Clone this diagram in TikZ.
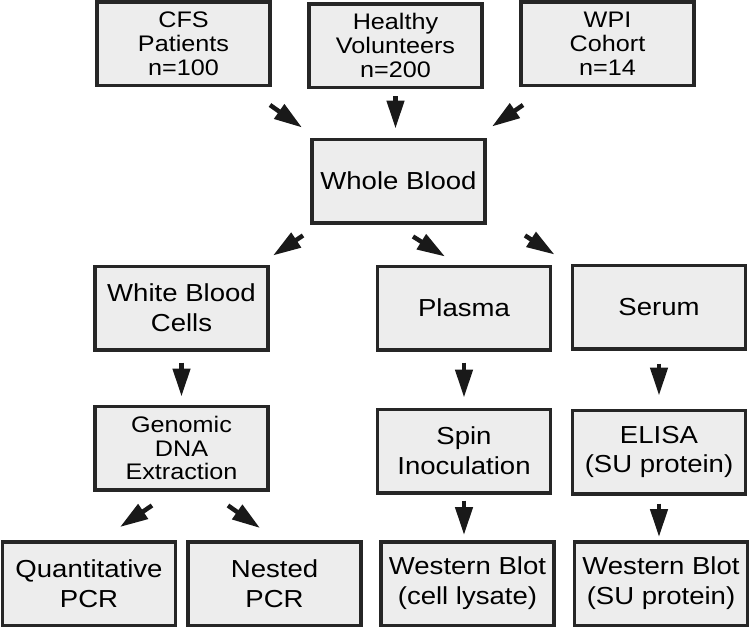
\documentclass[tikz,border=0pt]{standalone}
\usepackage{fontspec}
\setmainfont{Liberation Sans}[FakeStretch=1.12]
\usetikzlibrary{arrows.meta,calc}

\tikzset{
  box/.style={draw=black!85, fill=black!7, line width=0.07cm,
    minimum width=3.47cm, minimum height=1.67cm, align=center,
    inner sep=1pt, font=\fontsize{14}{17}\selectfont},
  tall/.style={font=\fontsize{12.8}{13.6}\selectfont},
  arr/.style={-{Triangle[length=5.6mm,width=3.4mm]}, line width=0.09cm, draw=black!90},
}

\begin{document}
\begin{tikzpicture}[x=0.02cm,y=-0.02cm]
    \useasboundingbox (0,0) rectangle (750,627);
    % sources
    \node[box,tall] (cfs) at (183.5,43.5) {CFS\\Patients\\n=100};
    \node[box,tall] (healthy) at (395.5,45.5) {Healthy\\Volunteers\\n=200};
    \node[box,tall] (wpi) at (607.5,43.5) {WPI\\Cohort\\n=14};
    \node[box] (whole) at (398.5,181) {Whole Blood};
    % fractions
    \node[box] (wbc) at (181.5,308) {White Blood\\Cells};
    \node[box] (plasma) at (464,308) {Plasma};
    \node[box] (serum) at (659,307) {Serum};
    \node[box,tall] (genomic) at (181.5,448) {Genomic\\DNA\\Extraction};
    \node[box] (spin) at (464,451) {Spin\\Inoculation};
    \node[box] (elisa) at (659,452) {ELISA\\(SU protein)};
    % assays
    \node[box] (quant) at (89,583.5) {Quantitative\\PCR};
    \node[box] (nested) at (274.5,583.5) {Nested\\PCR};
    \node[box] (wbcell) at (467.5,583.5) {Western Blot\\(cell lysate)};
    \node[box] (wbsu) at (661,583.5) {Western Blot\\(SU protein)};

    \draw[arr] ($(cfs.south east)+(-2,18)$) -- ($(whole.north west)+(-8,-10)$);
    \draw[arr] ($(wpi.south west)+(4,18)$) -- ($(whole.north east)+(5,-11)$);
    \draw[arr, shorten <=0.14cm, shorten >=0.18cm] (healthy.south) -- (healthy.south |- whole.north);
    \draw[arr] ($(whole.south west)+(-7,11)$) -- ($(wbc.north east)+(3,-9)$);
    \draw[arr] ($(whole.south)+(14.5,12)$) -- ($(plasma.north)+(-19,-8)$);
    \draw[arr] ($(whole.south east)+(38,11)$) -- ($(serum.north west)+(-16,-9)$);
    \draw[arr, shorten <=0.22cm, shorten >=0.16cm] (wbc.south) -- (wbc.south |- genomic.north);
    \draw[arr, shorten <=0.22cm, shorten >=0.2cm] (plasma.south) -- (plasma.south |- spin.north);
    \draw[arr, shorten <=0.26cm, shorten >=0.26cm] (serum.south) -- (serum.south |- elisa.north);
    \draw[arr] ($(genomic.south)+(-29.5,14)$) -- ($(quant.north)+(31,-13)$);
    \draw[arr] ($(genomic.south)+(46.5,14)$) -- ($(nested.north)+(-14.5,-12)$);
    \draw[arr, shorten <=0.12cm, shorten >=0.1cm] (spin.south) -- (spin.south |- wbcell.north);
    \draw[arr, shorten <=0.16cm, shorten >=0.06cm] (elisa.south) -- (elisa.south |- wbsu.north);
\end{tikzpicture}
\end{document}
